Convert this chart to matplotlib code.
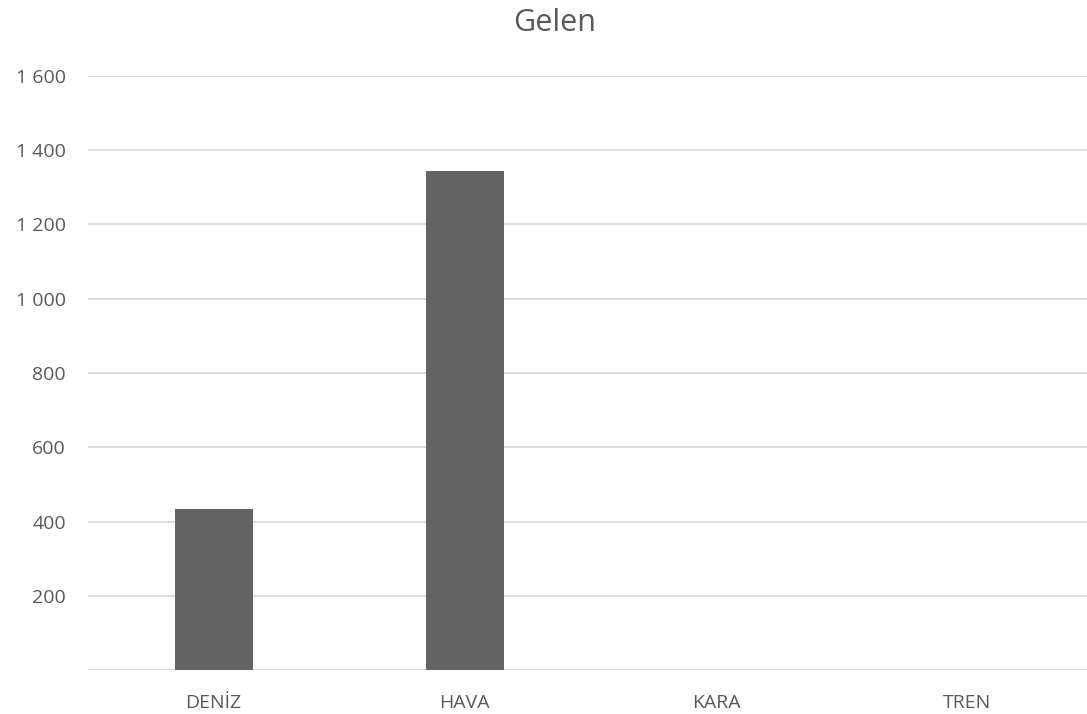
import matplotlib.pyplot as plt
from matplotlib.ticker import FuncFormatter

categories = ['DENİZ', 'HAVA', 'KARA', 'TREN']
values = [434, 1343, 0, 0]
y_ticks = [200, 400, 600, 800, 1000, 1200, 1400, 1600]

text_color = '#595959'
grid_color = '#d9d9d9'
bar_color = '#636363'

plt.rcParams['font.family'] = ['Open Sans', 'DejaVu Sans']

fig = plt.figure(figsize=(10.87, 7.14), dpi=100)
ax = fig.add_axes([0.081, 0.0616, 0.9246, 0.832])

x = list(range(len(categories)))
ax.bar(x, values, width=0.31, color=bar_color, zorder=3)

ax.set_xlim(-0.5, len(categories) - 0.5)
ax.set_ylim(0, 1600)
ax.set_yticks(y_ticks)
# thousands separated by a space, e.g. "1 600"
ax.yaxis.set_major_formatter(FuncFormatter(lambda v, p: '{:,.0f}'.format(v).replace(',', ' ')))
ax.set_xticks(x)
ax.set_xticklabels(categories)

ax.grid(axis='y', color=grid_color, linewidth=1.3, zorder=0)
ax.axhline(0, color=grid_color, linewidth=1.3, zorder=2)
for s in ax.spines.values():
    s.set_visible(False)
ax.tick_params(axis='both', length=0, labelsize=14, labelcolor=text_color)
ax.tick_params(axis='y', pad=16)
ax.tick_params(axis='x', pad=17)

fig.text(555 / 1087, 1 - 23 / 714, 'Gelen', ha='center', va='center', fontsize=22, color=text_color)

fig.savefig('out.png', dpi=100)
